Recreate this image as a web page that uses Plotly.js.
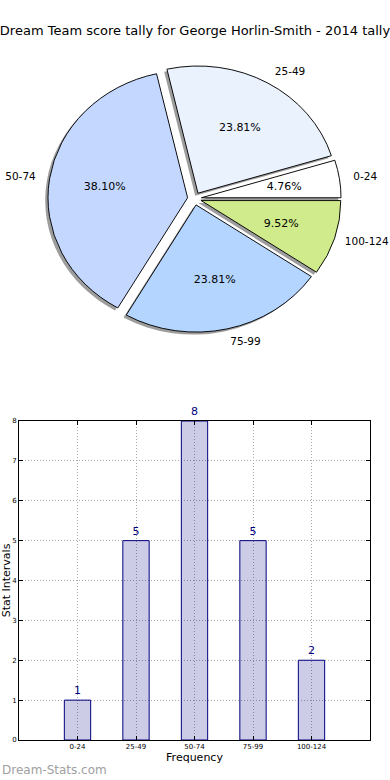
<!DOCTYPE html>
<html><head><meta charset="utf-8">
<script src="https://cdn.plot.ly/plotly-3.0.1.min.js"></script>
<style>html,body{margin:0;padding:0;background:#fff}#chart{width:390px;height:780px}</style>
</head><body><div id="chart"></div>
<script>
const categories = ['0-24','25-49','50-74','75-99','100-124'];
const counts = [1, 5, 8, 5, 2];
const sliceColors = ['#ffffff','#eaf2fe','#c4d8ff','#b4d5ff','#cfeb8b'];
const yTicks = [0,1,2,3,4,5,6,7,8];
const titleText = 'Dream Team score tally for George Horlin-Smith - 2014 tally';
const watermark = 'Dream-Stats.com';
const xTitle = 'Frequency';
const yTitle = 'Stat Intervals';

const FONT = 'DejaVu Sans, Verdana, sans-serif';
const W = 351, H = 740;            // plot area size (px)
const pull = 0.05;                 // explode fraction
const rPie = 127.2;                // vertical pie radius (px)
const SX = 1.0975;                 // horizontal stretch of the (non-equal-aspect) pie
const pctRadius = 0.6, labelRadius = 1.1;
const total = counts.reduce((a, b) => a + b, 0);
// counterclockwise pies in Plotly end their first slice at `rotation`; start first slice at 3 o'clock
const startRotation = 90 - 360 * counts[0] / total;
const boxPx = rPie * (2 + 2 * pull);
const cxFrac = 0.5, cyFrac = (740 - 198.7) / 740;
const dx = boxPx / W / 2, dy = boxPx / H / 2;
const pieDomain = {x: [cxFrac - dx, cxFrac + dx], y: [cyFrac - dy, cyFrac + dy]};
const sx = 2.55 / W, sy = 2.5 / H;
const shadowDomain = {x: [cxFrac - dx - sx, cxFrac + dx - sx], y: [cyFrac - dy - sy, cyFrac + dy - sy]};
const pulls = categories.map(() => pull);

const common = {
  type: 'pie', labels: categories, values: counts, sort: false,
  direction: 'counterclockwise', rotation: startRotation, pull: pulls,
  hoverinfo: 'skip', showlegend: false
};

const shadow = Object.assign({}, common, {
  domain: shadowDomain,
  marker: {colors: categories.map(() => 'rgba(60,60,60,0.5)'), line: {width: 0}},
  textinfo: 'none'
});
const main = Object.assign({}, common, {
  domain: pieDomain,
  marker: {colors: sliceColors, line: {color: '#000000', width: 0.9}},
  textinfo: 'none', texttemplate: '%{percent:.2%}', textposition: 'inside',
  insidetextorientation: 'horizontal',
  insidetextfont: {family: FONT, size: 11, color: '#000000'}
});
const labelsTrace = Object.assign({}, common, {
  domain: pieDomain,
  marker: {colors: categories.map(() => 'rgba(0,0,0,0)'), line: {width: 0}},
  textinfo: 'label', textposition: 'outside',
  outsidetextfont: {family: FONT, size: 10.5, color: '#000000'}
});

const bars = {
  type: 'bar', x: categories, y: counts, width: 0.45,
  marker: {color: 'rgba(0,0,128,0.2)', line: {color: '#000080', width: 1}},
  text: counts.map(String), textposition: 'outside', cliponaxis: false,
  textfont: {family: FONT, size: 11, color: '#000080'},
  hoverinfo: 'skip', showlegend: false, xaxis: 'x', yaxis: 'y'
};

const layout = {
  width: 390, height: 780,
  margin: {l: 19, r: 20, t: 0, b: 40, pad: 0},
  paper_bgcolor: '#ffffff', plot_bgcolor: '#ffffff',
  font: {family: FONT, color: '#000000'},
  title: {text: titleText, font: {family: FONT, size: 13, color: '#000000'}, x: 0.5, xanchor: 'center', y: 1 - 30/780, yanchor: 'middle', xref: 'container', yref: 'container'},
  xaxis: {
    domain: [0, 1], type: 'category', range: [-1, 5],
    showline: true, linecolor: '#000', linewidth: 1, mirror: 'allticks',
    ticks: 'inside', ticklen: 4, tickcolor: '#000',
    tickfont: {family: FONT, size: 7, color: '#000'},
    showgrid: true, gridcolor: '#a8a8a8', griddash: '1px,2px', gridwidth: 1,
    zeroline: false, automargin: false,
    title: {text: xTitle, font: {family: FONT, size: 11, color: '#000'}, standoff: 2}
  },
  yaxis: {
    domain: [0, (740 - 421) / 740], range: [0, 8], tickvals: yTicks,
    showline: true, linecolor: '#000', linewidth: 1, mirror: 'allticks',
    ticks: 'inside', ticklen: 4, tickcolor: '#000',
    tickfont: {family: FONT, size: 7, color: '#000'},
    showgrid: true, gridcolor: '#a8a8a8', griddash: '1px,2px', gridwidth: 1,
    zeroline: false, automargin: false,
    title: {text: yTitle, font: {family: FONT, size: 11, color: '#000'}, standoff: 2}
  },
  annotations: [{
    text: watermark, xref: 'paper', yref: 'paper',
    x: -19 / W, y: (740 - 770) / 740, xanchor: 'left', yanchor: 'middle',
    showarrow: false, font: {family: FONT, size: 12, color: '#a0a0a0'}
  }]
};

const gd = document.getElementById('chart');

// stretch the pie horizontally (matplotlib non-equal aspect) and place texts like matplotlib
function shapePie() {
  const groups = gd.querySelectorAll('.pielayer .trace');
  if (groups.length < 3) return;
  const c0 = gd.calcdata[1][0];
  const cx = c0.cx, cy = c0.cy;
  const sc = 'translate(' + cx + ',' + cy + ') scale(' + SX + ',1) translate(' + (-cx) + ',' + (-cy) + ')';
  groups.forEach(g => g.setAttribute('transform', sc));
  const rootBox = gd.getBoundingClientRect();
  const place = (traceIdx, radFactor, mode) => {
    const g = groups[traceIdx];
    const cd = gd.calcdata[traceIdx];
    const slices = g.querySelectorAll('g.slice');
    slices.forEach((s, k) => {
      const tg = s.querySelector('g.slicetext');
      const line = s.querySelector('path.textline');
      if (line) line.style.display = 'none';
      if (!tg) return;
      const txt = tg.querySelector('text');
      if (txt) txt.removeAttribute('transform');
      const pt = cd[k];
      const bb = tg.getBBox();
      let tx = cd[0].cx + (pull + radFactor) * pt.pxmid[0];
      const ty = cd[0].cy + (pull + radFactor) * pt.pxmid[1];
      let ax = bb.x + bb.width / 2;
      if (mode === 'edge') ax = pt.pxmid[0] >= 0 ? bb.x : bb.x + bb.width;
      const ay = bb.y + bb.height / 2;
      const setT = () => tg.setAttribute('transform', 'translate(' + tx + ',' + ty + ') scale(' + (1 / SX) + ',1) translate(' + (-ax) + ',' + (-ay) + ')');
      setT();
      // keep texts inside the page
      const r = tg.getBoundingClientRect();
      const over = r.right - (rootBox.left + 389);
      if (over > 0) { tx -= over / SX; setT(); }
      const under = (rootBox.left + 1) - r.left;
      if (under > 0) { tx += under / SX; setT(); }
    });
  };
  place(1, pctRadius, 'center');
  place(2, labelRadius, 'edge');
}

Plotly.newPlot(gd, [shadow, main, labelsTrace, bars], layout, {displayModeBar: false, staticPlot: true})
  .then(() => { try { shapePie(); } catch (e) { console.error(e); } });
</script>
</body></html>
